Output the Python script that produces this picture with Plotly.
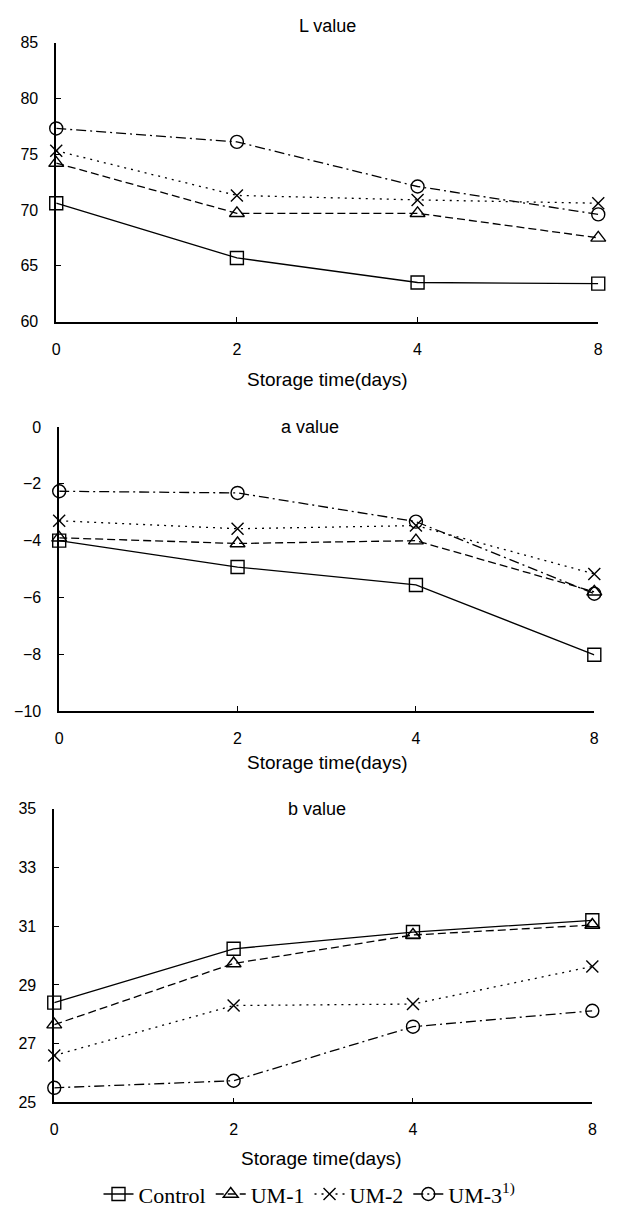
import plotly.graph_objects as go

days = ["0", "2", "4", "8"]
series_names = ["Control", "UM-1", "UM-2", "UM-3<sup>1)</sup>"]

L_control = [70.6, 65.7, 63.5, 63.4]
L_um1 = [74.2, 69.7, 69.7, 67.5]
L_um2 = [75.3, 71.3, 70.9, 70.6]
L_um3 = [77.3, 76.1, 72.1, 69.6]

a_control = [-4.0, -4.93, -5.56, -8.02]
a_um1 = [-3.9, -4.1, -4.0, -5.8]
a_um2 = [-3.3, -3.58, -3.47, -5.17]
a_um3 = [-2.26, -2.32, -3.33, -5.87]

b_control = [28.4, 30.23, 30.8, 31.2]
b_um1 = [27.65, 29.73, 30.7, 31.04]
b_um2 = [26.6, 28.3, 28.35, 29.63]
b_um3 = [25.5, 25.74, 27.58, 28.12]

panels = [
    ("L value", [L_control, L_um1, L_um2, L_um3], [60, 85], [60, 65, 70, 75, 80, 85]),
    ("a value", [a_control, a_um1, a_um2, a_um3], [-10, 0], [-10, -8, -6, -4, -2, 0]),
    ("b value", [b_control, b_um1, b_um2, b_um3], [25, 35], [25, 27, 29, 31, 33, 35]),
]

styles = [
    dict(dash="solid", symbol="square-open", size=13),
    dict(dash="8px,4px", symbol="triangle-up-open", size=13),
    dict(dash="2px,5px", symbol="x-thin-open", size=12),
    dict(dash="10px,4px,2px,4px", symbol="circle-open", size=13),
]

W, H = 620, 1217
# pixel geometry of each plot area: (x0, x1, ytop, ybottom)
geom = [(53, 603, 35, 318), (56, 599, 425, 713), (51, 597, 812, 1110)]
title_pos = [(328, 18), (310, 425), (318, 812)]
xtitle_pos = [(328, 377), (328, 765), (322, 1167)]

fig = go.Figure()
font_sans = "Liberation Sans, Arial, sans-serif"

for i, (ttl, data, yr, ytv) in enumerate(panels):
    sfx = "" if i == 0 else str(i + 1)
    for j, vals in enumerate(data):
        st = styles[j]
        fig.add_trace(go.Scatter(
            x=days, y=vals, mode="lines+markers",
            name=series_names[j],
            showlegend=(i == 2), cliponaxis=False,
            line=dict(color="black", width=1.3, dash=st["dash"]),
            marker=dict(symbol=st["symbol"], size=st["size"], color="black",
                        line=dict(color="black", width=1.4)),
            xaxis="x" + sfx, yaxis="y" + sfx,
        ))
    x0, x1, yt, yb = geom[i]
    axcommon = dict(showline=True, linecolor="black", linewidth=1.6,
                    ticks="inside", ticklen=5, tickcolor="black", tickwidth=1.3,
                    showgrid=False, zeroline=False, mirror=False,
                    tickfont=dict(family=font_sans, size=16, color="black"))
    fig.layout["xaxis" + sfx] = dict(
        domain=[x0 / W, x1 / W], anchor="y" + sfx, type="category",
        range=[0, 3], ticklabelstandoff=12, **axcommon)
    fig.layout["yaxis" + sfx] = dict(
        domain=[1 - yb / H, 1 - yt / H], anchor="x" + sfx, range=yr,
        tickvals=ytv, ticklabelstandoff=13, **axcommon)
    tx, ty = title_pos[i]
    fig.add_annotation(x=tx / W, y=1 - ty / H, xref="paper", yref="paper",
                       text=ttl, showarrow=False, xanchor="center", yanchor="middle",
                       font=dict(family=font_sans, size=18, color="black"))
    ax, ay = xtitle_pos[i]
    fig.add_annotation(x=ax / W, y=1 - ay / H, xref="paper", yref="paper",
                       text="Storage time(days)", showarrow=False,
                       xanchor="center", yanchor="middle",
                       font=dict(family=font_sans, size=19, color="black"))

fig.update_layout(
    width=W, height=H,
    margin=dict(l=0, r=0, t=0, b=0),
    paper_bgcolor="white", plot_bgcolor="white",
    legend=dict(orientation="h", x=0.5, xanchor="center", y=1 - 1203 / H,
                yanchor="middle", font=dict(family="Liberation Serif, Times New Roman, serif",
                                            size=22, color="black"),
                itemwidth=30, tracegroupgap=0, bgcolor="rgba(0,0,0,0)"),
)

fig.write_html("out.html")
